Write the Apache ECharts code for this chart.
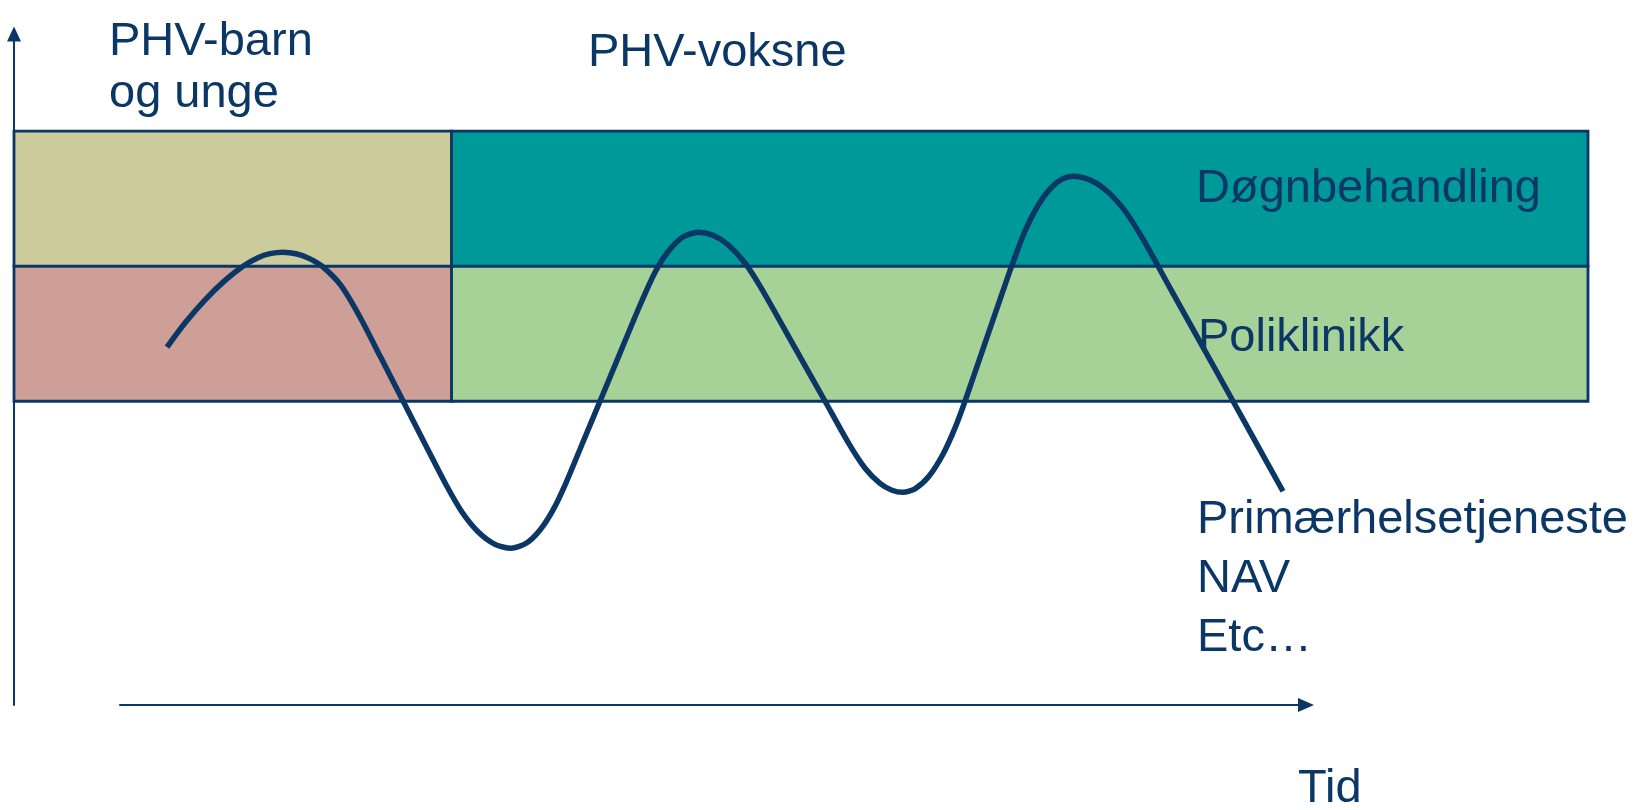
<!DOCTYPE html>
<html lang="no">
<head>
    <meta charset="utf-8">
    <title>PHV</title>
    <style>
        html, body { margin: 0; padding: 0; background: #fff; }
        #chart { width: 1642px; height: 810px; }
    </style>
</head>
<body>
<div id="chart"></div>
<script src="https://cdn.jsdelivr.net/npm/echarts@6.0.0/dist/echarts.min.js"></script>
<script type="text/javascript">

// tid (0-100) og nivå (1 = primær, 2 = poliklinikk, 3 = døgn), lest av figuren
var timeValues = [
    9.72, 10.86, 12.14, 13.41, 14.55, 15.50, 16.26, 17.09, 17.92, 18.74,
    19.57, 20.78, 21.98, 23.25, 24.71, 26.30, 27.45, 28.46, 29.48, 30.56,
    31.58, 32.59, 33.42, 34.24, 35.07, 36.15, 37.23, 38.50, 39.77, 40.72,
    41.55, 42.50, 43.46, 44.41, 45.36, 46.44, 47.52, 49.62, 51.53, 53.05,
    54.07, 55.02, 55.78, 56.48, 57.24, 58.13, 59.02, 59.78, 60.42, 61.69,
    62.64, 63.41, 64.23, 65.06, 65.82, 66.58, 67.28, 68.04, 68.81, 69.63,
    70.59, 71.73, 73.44, 75.35, 77.45, 79.03, 80.62
];
var levelValues = [
    1.400, 1.579, 1.751, 1.895, 2.000, 2.063, 2.093, 2.104, 2.092, 2.058,
    2.000, 1.856, 1.624, 1.336, 1.003, 0.641, 0.381, 0.179, 0.033, -0.060,
    -0.089, -0.048, 0.046, 0.193, 0.396, 0.698, 1.000, 1.356, 1.711, 1.954,
    2.107, 2.216, 2.252, 2.229, 2.159, 2.024, 1.829, 1.395, 1.000, 0.684,
    0.504, 0.391, 0.341, 0.326, 0.351, 0.444, 0.607, 0.801, 1.000, 1.430,
    1.752, 2.010, 2.260, 2.450, 2.573, 2.645, 2.667, 2.653, 2.612, 2.536,
    2.409, 2.200, 1.840, 1.440, 1.000, 0.667, 0.333
];

// skille mellom barn/unge og voksne
var groupEdges = [0, 27.8, 100];
var groupNames = ['PHV-barn\nog unge', 'PHV-voksne'];
var levelEdges = [1, 2, 3];
var bandNames = ['Poliklinikk', 'Døgnbehandling'];
var bandColors = [
    ['#CD9F97', '#CCCB9B'],   // barn: poliklinikk, døgn
    ['#A6D197', '#009999']    // voksne
];
var otherNames = ['Primærhelsetjeneste', 'NAV', 'Etc…'];
var axisName = 'Tid';

var navy = '#0B3766';
var font = '47px "Liberation Sans", Arial, sans-serif';

var chart = echarts.init(document.getElementById('chart'));

// bakgrunnsfelt
var areas = [];
for (var g = 0; g < 2; g++) {
    for (var b = 0; b < 2; b++) {
        areas.push([
            { xAxis: groupEdges[g], yAxis: levelEdges[b], itemStyle: { color: bandColors[g][b] } },
            { xAxis: groupEdges[g + 1], yAxis: levelEdges[b + 1] }
        ]);
    }
}

var texts = [
    { x: 109, y: 16, text: groupNames[0], lh: 52 },
    { x: 588, y: 27, text: groupNames[1], lh: 52 },
    { x: 1196, y: 163, text: bandNames[1], lh: 52 },
    { x: 1198, y: 312, text: bandNames[0], lh: 52 },
    { x: 1197, y: 491, text: otherNames.join('\n'), lh: 59 },
    { x: 1298, y: 763, text: axisName, lh: 52 }
];

var option = {
    animation: false,
    grid: [
        { left: 14, right: 54, top: 34, bottom: 105 },
        { left: 120, right: 336, top: 34, bottom: 105 }
    ],
    xAxis: [
        { gridIndex: 0, type: 'value', min: 0, max: 100, show: false },
        {
            gridIndex: 1, type: 'value', min: 0, max: 1,
            axisLine: { show: true, symbol: ['none', 'triangle'], symbolSize: [14, 16], lineStyle: { color: navy, width: 2 } },
            axisTick: { show: false }, axisLabel: { show: false }, splitLine: { show: false }
        }
    ],
    yAxis: [
        {
            gridIndex: 0, type: 'value', min: -1.25, max: 3.72,
            axisLine: { show: true, symbol: ['none', 'triangle'], symbolSize: [14, 15], lineStyle: { color: navy, width: 2 } },
            axisTick: { show: false }, axisLabel: { show: false }, splitLine: { show: false }
        },
        { gridIndex: 1, type: 'value', min: 0, max: 1, show: false }
    ],
    series: [
        {
            type: 'line',
            xAxisIndex: 0,
            yAxisIndex: 0,
            clip: false,
            smooth: 0.25,
            showSymbol: false,
            lineStyle: { color: navy, width: 5.5 },
            data: timeValues.map(function (t, i) { return [t, levelValues[i]]; }),
            z: 6,
            markArea: {
                silent: true,
                itemStyle: { borderColor: navy, borderWidth: 2.8 },
                data: areas
            },
            markLine: {
                silent: true,
                symbol: 'none',
                lineStyle: { color: navy, width: 2.5, type: 'solid' },
                label: { show: false },
                data: [[
                    { coord: [groupEdges[1], levelEdges[2]] },
                    { coord: [groupEdges[1], -1.46] }
                ]]
            }
        }
    ],
    graphic: texts.map(function (t) {
        return {
            type: 'text',
            x: t.x,
            y: t.y,
            z: 3,
            style: {
                text: t.text,
                fill: navy,
                font: font,
                lineHeight: t.lh,
                textAlign: 'left',
                textVerticalAlign: 'top'
            }
        };
    })
};

chart.setOption(option);

</script>
</body>
</html>
